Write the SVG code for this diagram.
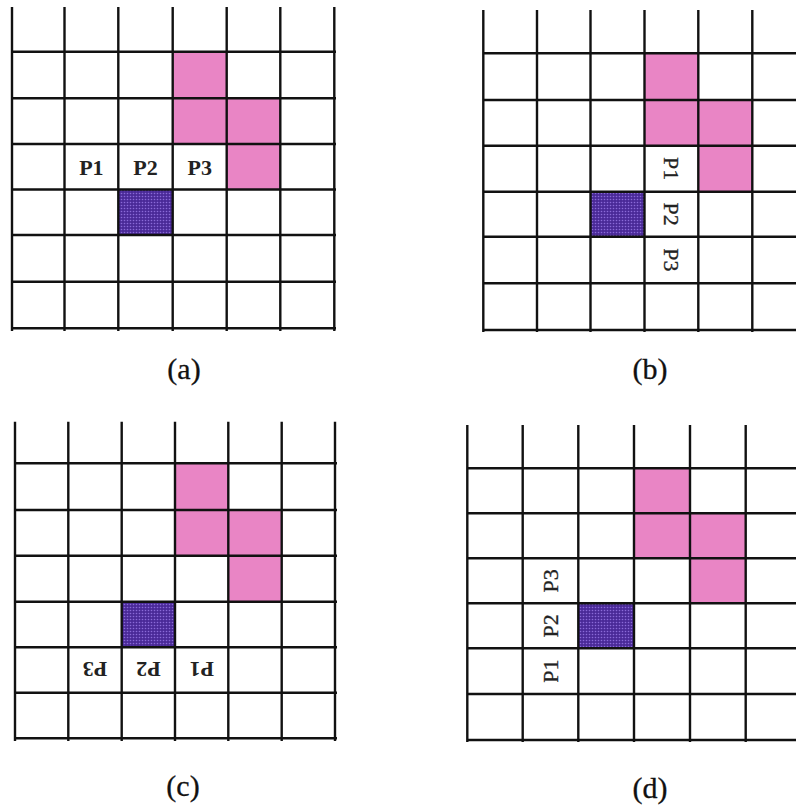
<svg xmlns="http://www.w3.org/2000/svg" width="796" height="808" viewBox="0 0 796 808">
  <defs>
    <pattern id="dots" width="3" height="3" patternUnits="userSpaceOnUse">
      <rect width="3" height="3" fill="#4a2a98"/>
      <circle cx="1.5" cy="1.5" r="0.8" fill="#8a6ad8"/>
    </pattern>
  </defs>
  <style>
    .g line { stroke: #111; stroke-width: 2.4; }
    .pink { fill: #e985c5; }
    .purple { fill: url(#dots); }
    .lbl { font-family: "Liberation Serif", "Times New Roman", serif; font-size: 22px; font-weight: bold; fill: #222; text-anchor: middle; }
    .lbln { font-weight: normal; stroke: #222; stroke-width: 0.3; }
    .cap { font-family: "Liberation Serif", "Times New Roman", serif; font-size: 30px; fill: #111; text-anchor: middle; stroke: #111; stroke-width: 0.3; }
  </style>
  <rect width="796" height="808" fill="#ffffff"/>

  <!-- Panel (a) -->
  <g id="panel-a">
    <path class="pink" d="M172.7,51.7 H226.7 V98.3 H280.3 V189.5 H226.7 V144 H172.7 Z"/>
    <rect class="purple" x="118.3" y="189.5" width="54.4" height="45.5"/>
    <g class="g">
      <line x1="12" y1="7" x2="12" y2="331"/>
      <line x1="64.5" y1="7" x2="64.5" y2="331"/>
      <line x1="118.3" y1="7" x2="118.3" y2="331"/>
      <line x1="172.7" y1="7" x2="172.7" y2="331"/>
      <line x1="226.7" y1="7" x2="226.7" y2="331"/>
      <line x1="280.3" y1="7" x2="280.3" y2="331"/>
      <line x1="334.3" y1="7" x2="334.3" y2="331"/>
      <line x1="12" y1="51.7" x2="336" y2="51.7"/>
      <line x1="12" y1="98.3" x2="336" y2="98.3"/>
      <line x1="12" y1="144" x2="336" y2="144"/>
      <line x1="12" y1="189.5" x2="336" y2="189.5"/>
      <line x1="12" y1="235" x2="336" y2="235"/>
      <line x1="12" y1="281.7" x2="336" y2="281.7"/>
      <line x1="12" y1="328.3" x2="336" y2="328.3"/>
    </g>
    <text class="lbl" x="91.4" y="174.5">P1</text>
    <text class="lbl" x="145.5" y="174.5">P2</text>
    <text class="lbl" x="199.7" y="174.5">P3</text>
    <text class="cap" x="184" y="379">(a)</text>
  </g>

  <!-- Panel (b) -->
  <g id="panel-b">
    <path class="pink" d="M644.5,53.3 H698.3 V100 H752.3 V191.7 H698.3 V145.7 H644.5 Z"/>
    <rect class="purple" x="590.5" y="191.7" width="54" height="45"/>
    <g class="g">
      <line x1="483.3" y1="10" x2="483.3" y2="332"/>
      <line x1="537" y1="10" x2="537" y2="332"/>
      <line x1="590.5" y1="10" x2="590.5" y2="332"/>
      <line x1="644.5" y1="10" x2="644.5" y2="332"/>
      <line x1="698.3" y1="10" x2="698.3" y2="332"/>
      <line x1="752.3" y1="10" x2="752.3" y2="332"/>
      <line x1="483.3" y1="53.3" x2="796" y2="53.3"/>
      <line x1="483.3" y1="100" x2="796" y2="100"/>
      <line x1="483.3" y1="145.7" x2="796" y2="145.7"/>
      <line x1="483.3" y1="191.7" x2="796" y2="191.7"/>
      <line x1="483.3" y1="236.7" x2="796" y2="236.7"/>
      <line x1="483.3" y1="283.3" x2="796" y2="283.3"/>
      <line x1="483.3" y1="330" x2="796" y2="330"/>
    </g>
    <text class="lbl lbln" x="671.4" y="176.4" transform="rotate(90 671.4 168.7)">P1</text>
    <text class="lbl lbln" x="671.4" y="221.9" transform="rotate(90 671.4 214.2)">P2</text>
    <text class="lbl lbln" x="671.4" y="267.7" transform="rotate(90 671.4 260)">P3</text>
    <text class="cap" x="650" y="379">(b)</text>
  </g>

  <!-- Panel (c) -->
  <g id="panel-c">
    <path class="pink" d="M175,463.3 H228.3 V510 H281.7 V601.7 H228.3 V555.7 H175 Z"/>
    <rect class="purple" x="121.7" y="601.7" width="53.3" height="45.6"/>
    <g class="g">
      <line x1="15" y1="421.7" x2="15" y2="741"/>
      <line x1="68.3" y1="421.7" x2="68.3" y2="741"/>
      <line x1="121.7" y1="421.7" x2="121.7" y2="741"/>
      <line x1="175" y1="421.7" x2="175" y2="741"/>
      <line x1="228.3" y1="421.7" x2="228.3" y2="741"/>
      <line x1="281.7" y1="421.7" x2="281.7" y2="741"/>
      <line x1="335" y1="421.7" x2="335" y2="741"/>
      <line x1="15" y1="463.3" x2="337" y2="463.3"/>
      <line x1="15" y1="510" x2="337" y2="510"/>
      <line x1="15" y1="555.7" x2="337" y2="555.7"/>
      <line x1="15" y1="601.7" x2="337" y2="601.7"/>
      <line x1="15" y1="647.3" x2="337" y2="647.3"/>
      <line x1="15" y1="692.7" x2="337" y2="692.7"/>
      <line x1="15" y1="738.3" x2="337" y2="738.3"/>
    </g>
    <text class="lbl" x="95" y="677.7" transform="rotate(180 95 670)">P3</text>
    <text class="lbl" x="148.4" y="677.7" transform="rotate(180 148.4 670)">P2</text>
    <text class="lbl" x="201.7" y="677.7" transform="rotate(180 201.7 670)">P1</text>
    <text class="cap" x="183" y="796">(c)</text>
  </g>

  <!-- Panel (d) -->
  <g id="panel-d">
    <path class="pink" d="M634,468.3 H690 V513.3 H745.7 V603.3 H690 V558.3 H634 Z"/>
    <rect class="purple" x="578.3" y="603.3" width="55.7" height="45"/>
    <g class="g">
      <line x1="467.3" y1="425" x2="467.3" y2="742"/>
      <line x1="522.7" y1="425" x2="522.7" y2="742"/>
      <line x1="578.3" y1="425" x2="578.3" y2="742"/>
      <line x1="634" y1="425" x2="634" y2="742"/>
      <line x1="690" y1="425" x2="690" y2="742"/>
      <line x1="745.7" y1="425" x2="745.7" y2="742"/>
      <line x1="467.3" y1="468.3" x2="796" y2="468.3"/>
      <line x1="467.3" y1="513.3" x2="796" y2="513.3"/>
      <line x1="467.3" y1="558.3" x2="796" y2="558.3"/>
      <line x1="467.3" y1="603.3" x2="796" y2="603.3"/>
      <line x1="467.3" y1="648.3" x2="796" y2="648.3"/>
      <line x1="467.3" y1="694" x2="796" y2="694"/>
      <line x1="467.3" y1="740" x2="796" y2="740"/>
    </g>
    <text class="lbl lbln" x="550.5" y="588.5" transform="rotate(-90 550.5 580.8)">P3</text>
    <text class="lbl lbln" x="550.5" y="633.5" transform="rotate(-90 550.5 625.8)">P2</text>
    <text class="lbl lbln" x="550.5" y="678.9" transform="rotate(-90 550.5 671.2)">P1</text>
    <text class="cap" x="650" y="798">(d)</text>
  </g>
</svg>
